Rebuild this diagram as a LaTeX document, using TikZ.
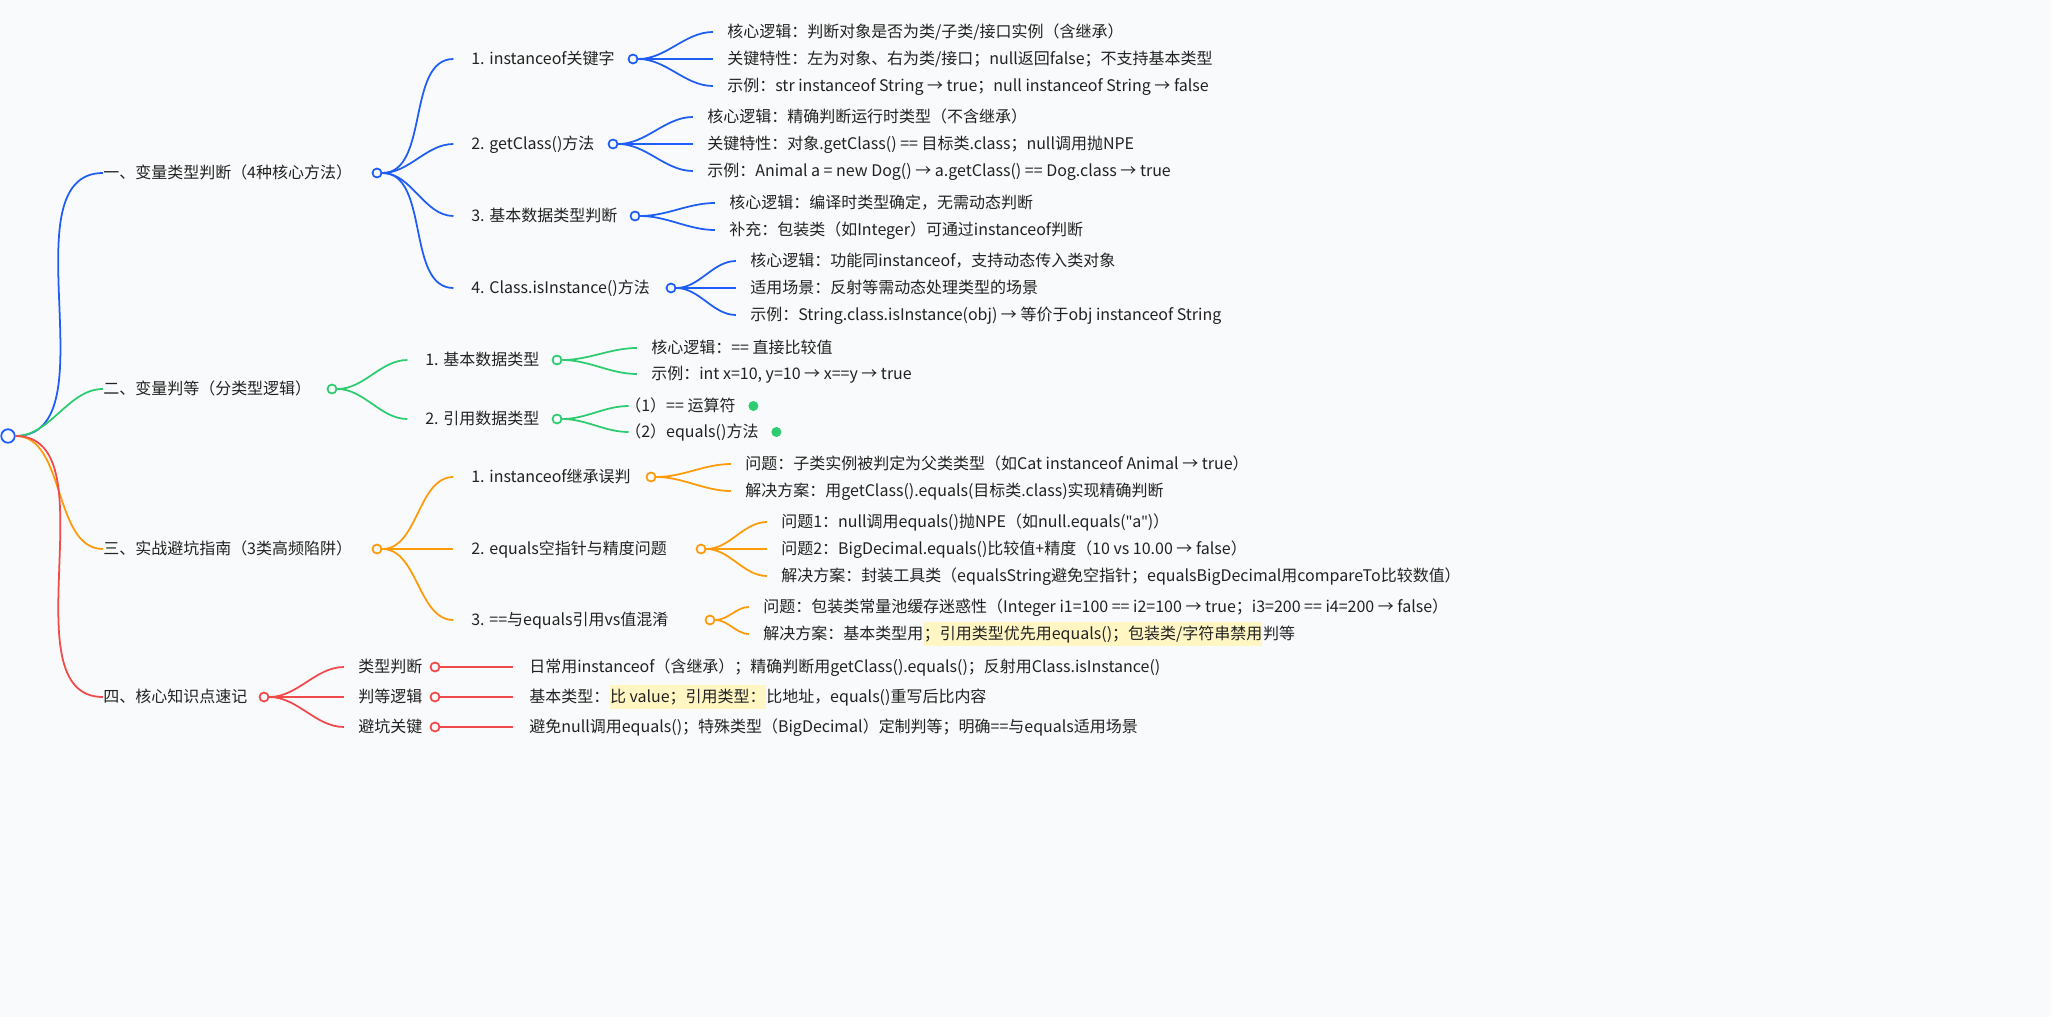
\documentclass[tikz,border=0pt]{standalone}
\usepackage{fontspec}
\setmainfont{Noto Sans CJK SC}
\newfontfamily\latq{Noto Sans}
\begin{document}
\definecolor{bg}{HTML}{F9FAFB}
\definecolor{cb}{HTML}{1F5EF5}
\definecolor{cg}{HTML}{2ECC71}
\definecolor{co}{HTML}{FF9A0A}
\definecolor{cr}{HTML}{F04A4A}
\definecolor{hl}{HTML}{FFF6C4}
\definecolor{tx}{HTML}{222222}
\begin{tikzpicture}[x=0.02cm,y=-0.02cm,
  t/.style={anchor=west,inner xsep=0pt,inner ysep=2pt,text=tx,font=\fontsize{9.1}{10}\selectfont,text height=0.8em,text depth=0.22em},
  h/.style={t,fill=hl},
  dot/.style={circle,draw,line width=1pt,fill=bg,minimum size=0.18cm,inner sep=0pt},
  e/.style={line width=1pt},
  cv/.style={e,out=0,in=180,looseness=0.9}]
\fill[bg] (0,0) rectangle (2051,1017);
\useasboundingbox (0,0) rectangle (2051,1017);
% root
\node[dot,draw=cb,minimum size=0.27cm] (root) at (8,436) {};
% level 1
\node[t] (A) at (103,173) {一、变量类型判断（4种核心方法）};
\node[dot,draw=cb] (Ac) at (377,173) {};
\node[t] (B) at (103,389) {二、变量判等（分类型逻辑）};
\node[dot,draw=cg] (Bc) at (332,389) {};
\node[t] (C) at (103,549) {三、实战避坑指南（3类高频陷阱）};
\node[dot,draw=co] (Cc) at (377,549) {};
\node[t] (D) at (103,697) {四、核心知识点速记};
\node[dot,draw=cr] (Dc) at (264,697) {};
\draw[cv,cb] (root.east) to (A.west);
\draw[cv,cg] (root.east) to (B.west);
\draw[cv,co] (root.east) to (C.west);
\draw[cv,cr] (root.east) to (D.west);
% branch A
\node[t] (A1) at (471,59) {1. instanceof关键字};
\node[dot,draw=cb] (A1c) at (633,59) {};
\node[t] (A2) at (471,144) {2. getClass()方法};
\node[dot,draw=cb] (A2c) at (613,144) {};
\node[t] (A3) at (471,216) {3. 基本数据类型判断};
\node[dot,draw=cb] (A3c) at (635,216) {};
\node[t] (A4) at (471,288) {4. Class.isInstance()方法};
\node[dot,draw=cb] (A4c) at (671,288) {};
\foreach \n in {A1,A2,A3,A4} \draw[cv,cb] (Ac.east) to ([xshift=-10]\n.west);
\node[t] (A11) at (727,32) {核心逻辑：判断对象是否为类/子类/接口实例（含继承）};
\node[t] (A12) at (727,59) {关键特性：左为对象、右为类/接口；null返回false；不支持基本类型};
\node[t] (A13) at (727,86) {示例：str instanceof String → true；null instanceof String → false};
\foreach \n in {A11,A12,A13} \draw[cv,cb] (A1c.east) to ([xshift=-8]\n.west);
\node[t] (A21) at (707,117) {核心逻辑：精确判断运行时类型（不含继承）};
\node[t] (A22) at (707,144) {关键特性：对象.getClass() == 目标类.class；null调用抛NPE};
\node[t] (A23) at (707,171) {示例：Animal a = new Dog() → a.getClass() == Dog.class → true};
\foreach \n in {A21,A22,A23} \draw[cv,cb] (A2c.east) to ([xshift=-8]\n.west);
\node[t] (A31) at (729,203) {核心逻辑：编译时类型确定，无需动态判断};
\node[t] (A32) at (729,230) {补充：包装类（如Integer）可通过instanceof判断};
\foreach \n in {A31,A32} \draw[cv,cb] (A3c.east) to ([xshift=-8]\n.west);
\node[t] (A41) at (750,261) {核心逻辑：功能同instanceof，支持动态传入类对象};
\node[t] (A42) at (750,288) {适用场景：反射等需动态处理类型的场景};
\node[t] (A43) at (750,315) {示例：String.class.isInstance(obj) → 等价于obj instanceof String};
\foreach \n in {A41,A42,A43} \draw[cv,cb] (A4c.east) to ([xshift=-8]\n.west);
% branch B
\node[t] (B1) at (425,360) {1. 基本数据类型};
\node[dot,draw=cg] (B1c) at (557,360) {};
\node[t] (B2) at (425,419) {2. 引用数据类型};
\node[dot,draw=cg] (B2c) at (557,419) {};
\foreach \n in {B1,B2} \draw[cv,cg] (Bc.east) to ([xshift=-10]\n.west);
\node[t] (B11) at (651,348) {核心逻辑：== 直接比较值};
\node[t] (B12) at (651,374) {示例：int x=10, y=10 → x==y → true};
\foreach \n in {B11,B12} \draw[cv,cg] (B1c.east) to ([xshift=-8]\n.west);
\node[t] (B21) at (625,406) {（1）== 运算符};
\node[t] (B22) at (625,432) {（2）equals()方法};
\foreach \n in {B21,B22} \draw[cv,cg] (B2c.east) to ([xshift=2]\n.west);
\fill[cg] ([xshift=10]B21.east) circle (5);
\fill[cg] ([xshift=10]B22.east) circle (5);
% branch C
\node[t] (C1) at (471,477) {1. instanceof继承误判};
\node[dot,draw=co] (C1c) at (651,477) {};
\node[t] (C2) at (471,549) {2. equals空指针与精度问题};
\node[dot,draw=co] (C2c) at (701,549) {};
\node[t] (C3) at (471,620) {3. ==与equals引用vs值混淆};
\node[dot,draw=co] (C3c) at (710,620) {};
\foreach \n in {C1,C2,C3} \draw[cv,co] (Cc.east) to ([xshift=-10]\n.west);
\node[t] (C11) at (745,464) {问题：子类实例被判定为父类类型（如Cat instanceof Animal → true）};
\node[t] (C12) at (745,491) {解决方案：用getClass().equals(目标类.class)实现精确判断};
\foreach \n in {C11,C12} \draw[cv,co] (C1c.east) to ([xshift=-8]\n.west);
\node[t] (C21) at (781,522) {问题1：null调用equals()抛NPE（如null.equals({\latq\char34}a{\latq\char34})）};
\node[t] (C22) at (781,549) {问题2：BigDecimal.equals()比较值+精度（10 vs 10.00 → false）};
\node[t] (C23) at (781,576) {解决方案：封装工具类（equalsString避免空指针；equalsBigDecimal用compareTo比较数值）};
\foreach \n in {C21,C22,C23} \draw[cv,co] (C2c.east) to ([xshift=-8]\n.west);
\node[t] (C31) at (763,607) {问题：包装类常量池缓存迷惑性（Integer i1=100 == i2=100 → true；i3=200 == i4=200 → false）};
\node[t] (C32) at (763,634) {解决方案：基本类型用};
\node[h] (C32b) at (C32.east) {；引用类型优先用equals()；包装类/字符串禁用};
\node[t] (C32c) at (C32b.east) {判等};
\foreach \n in {C31,C32} \draw[cv,co] (C3c.east) to ([xshift=-8]\n.west);
% branch D
\node[t] (D1) at (358,667) {类型判断};
\node[dot,draw=cr] (D1c) at (435,667) {};
\node[t] (D2) at (358,697) {判等逻辑};
\node[dot,draw=cr] (D2c) at (435,697) {};
\node[t] (D3) at (358,727) {避坑关键};
\node[dot,draw=cr] (D3c) at (435,727) {};
\foreach \n in {D1,D2,D3} \draw[cv,cr] (Dc.east) to ([xshift=-8]\n.west);
\node[t] (D11) at (529,667) {日常用instanceof（含继承）；精确判断用getClass().equals()；反射用Class.isInstance()};
\node[t] (D21) at (529,697) {基本类型：};
\node[h] (D21b) at (D21.east) {比 value；引用类型：};
\node[t] (D21c) at (D21b.east) {比地址，equals()重写后比内容};
\node[t] (D31) at (529,727) {避免null调用equals()；特殊类型（BigDecimal）定制判等；明确==与equals适用场景};
\draw[e,cr] (D1c.east) -- ([xshift=-9]D11.west);
\draw[e,cr] (D2c.east) -- ([xshift=-9]D21.west);
\draw[e,cr] (D3c.east) -- ([xshift=-9]D31.west);
\end{tikzpicture}
\end{document}
